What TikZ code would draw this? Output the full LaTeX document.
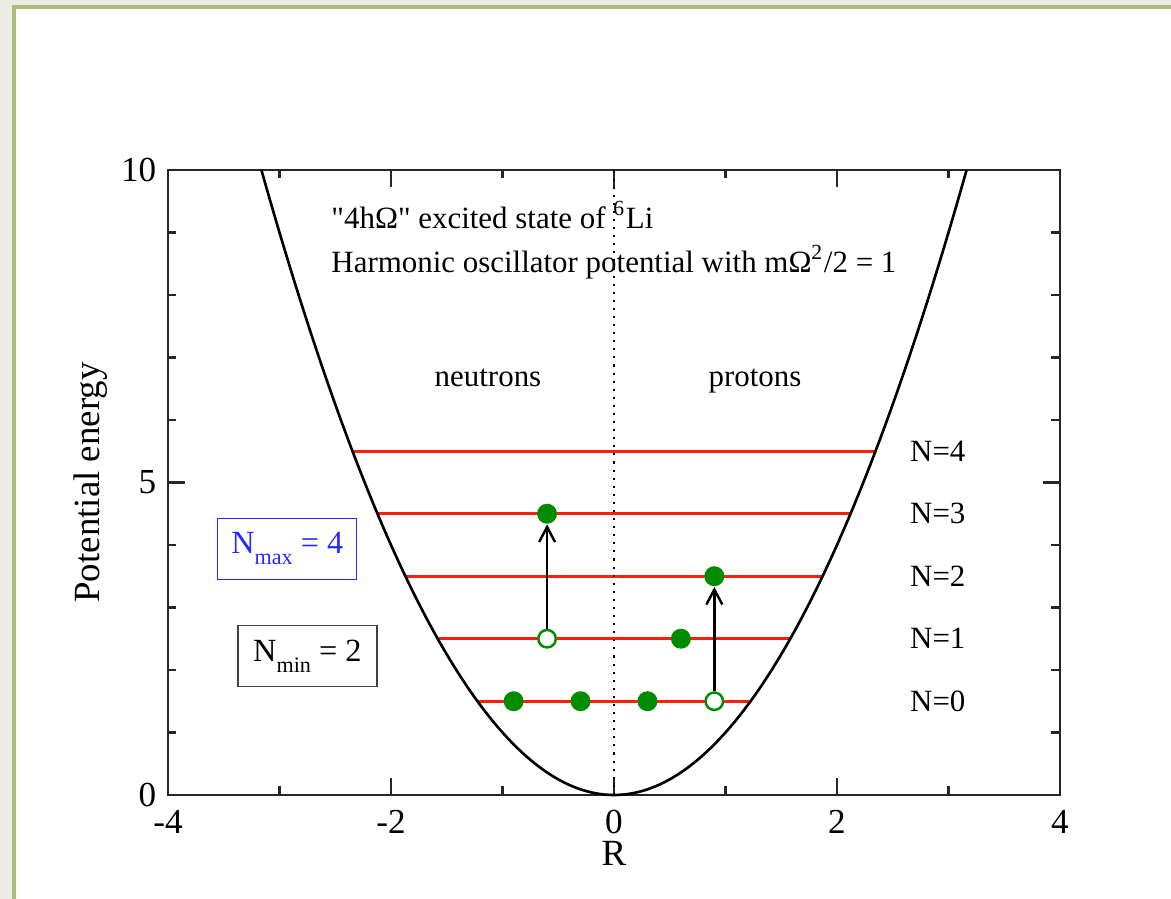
\documentclass[tikz,border=0pt]{standalone}
\usepackage{fontspec}
\setmainfont{Liberation Serif}
\usetikzlibrary{arrows.meta}
\definecolor{slidebg}{RGB}{236,236,229}
\definecolor{slidegreen}{RGB}{170,190,120}
\definecolor{levelred}{RGB}{255,30,10}
\definecolor{dotgreen}{RGB}{0,140,0}
\definecolor{maxblue}{RGB}{40,40,255}
\newcommand{\lowsub}[1]{\raisebox{-0.75ex}{\fontsize{6.3}{7}\selectfont #1}}

\begin{document}
\begin{tikzpicture}[
            x=1.115cm, y=0.625cm,
            frame/.style={draw=black!85,line width=0.6pt},
            level/.style={draw=levelred,line width=0.9pt},
            well/.style={draw=black,line width=0.75pt},
            lbl/.style={font=\fontsize{8.8}{10}\selectfont,inner sep=0pt},
            tick/.style={font=\fontsize{10}{12}\selectfont,inner sep=0pt},
            axlbl/.style={font=\fontsize{10.5}{12}\selectfont,inner sep=0pt},
            full/.style={circle,fill=dotgreen,minimum size=2mm,inner sep=0pt},
            hole/.style={circle,draw=dotgreen,line width=0.7pt,fill=white,minimum size=1.75mm,inner sep=0pt},
            jump/.style={-{Straight Barb[length=1.5mm,width=1.6mm]},line width=0.7pt},
            nbox/.style={draw,line width=0.4pt,minimum width=1.39cm,minimum height=0.61cm,font=\fontsize{9.2}{11}\selectfont}
        ]

        \useasboundingbox (-6.14cm,-1.04cm) rectangle (5.57cm,7.95cm);
        \fill[slidebg] (-6.14cm,-1.04cm) rectangle (5.57cm,7.95cm);
        \fill[white] (-6.0cm,-1.04cm) rectangle (5.57cm,7.88cm);
        \draw[slidegreen,line width=0.45mm] (-6.0cm,-1.1cm) |- (5.6cm,7.88cm);

        \draw[frame] (-4,0) rectangle (4,10);
        \foreach \r in {-4,-2,...,4}
            \draw[frame] (\r,0) -- ++(0,0.17cm) (\r,10) -- ++(0,-0.17cm);
        \foreach \r in {-3,-1,1,3}
            \draw[frame] (\r,0) -- ++(0,0.085cm) (\r,10) -- ++(0,-0.085cm);
        \foreach \e in {0,5,10}
            \draw[frame] (-4,\e) -- ++(0.17cm,0) (4,\e) -- ++(-0.17cm,0);
        \foreach \e in {1,2,3,4,6,7,8,9}
            \draw[frame] (-4,\e) -- ++(0.085cm,0) (4,\e) -- ++(-0.085cm,0);

        \foreach \r in {-4,-2,0,2,4}
            \node[tick] (xl\r) at ([yshift=-0.27cm]\r,0) {\r};
        \foreach \e in {0,5,10}
            \node[tick,anchor=east] (yl\e) at ([xshift=-0.11cm]-4,\e) {\e};
        \node[axlbl] (rlab) at ([yshift=-0.58cm]0,0) {R};
        \node[axlbl,rotate=90] (vlab) at ([xshift=-0.77cm]-4,5) {Potential energy};

        \foreach \n in {0,...,4}{
            \draw[level] ({-sqrt(\n+1.5)},\n+1.5) -- ({sqrt(\n+1.5)},\n+1.5);
            \node[lbl,anchor=west] (nl\n) at (2.65,\n+1.5) {N=\n};
        }
        \draw[well,domain=-3.1623:3.1623,samples=120,smooth] plot (\x,{\x*\x});
        \draw[line width=0.6pt,dash pattern=on 0.6pt off 1.7pt] (0,0) -- (0,10);

        \node[lbl,anchor=west] (title) at (-2.54,9.28) {\textquotedbl 4hΩ\textquotedbl{} excited state of \textsuperscript{6}Li};
        \node[lbl,anchor=west] (pot) at (-2.54,8.53) {Harmonic oscillator potential with mΩ\textsuperscript{2}/2 = 1};
        \node[lbl,anchor=base] (neu) at (-1.13,6.54) {neutrons};
        \node[lbl,anchor=base] (pro) at (1.265,6.54) {protons};

        \node[nbox,draw=maxblue,text=maxblue] (nmax) at (-2.93,3.94) {N\lowsub{max} = 4};
        \node[nbox,draw=black!75] (nmin) at (-2.75,2.22) {N\lowsub{min} = 2};

        \node[full] (n0a) at (-0.9,1.5) {};
        \node[full] (n0b) at (-0.3,1.5) {};
        \node[full] (p0a) at (0.3,1.5) {};
        \node[hole] (p0b) at (0.9,1.5) {};
        \node[hole] (n1) at (-0.6,2.5) {};
        \node[full] (p1) at (0.6,2.5) {};
        \node[full] (p2) at (0.9,3.5) {};
        \node[full] (n3) at (-0.6,4.5) {};

        \draw[jump]
            (n1) edge (n3)
            (p0b) edge (p2)
        ;

\end{tikzpicture}
\end{document}
